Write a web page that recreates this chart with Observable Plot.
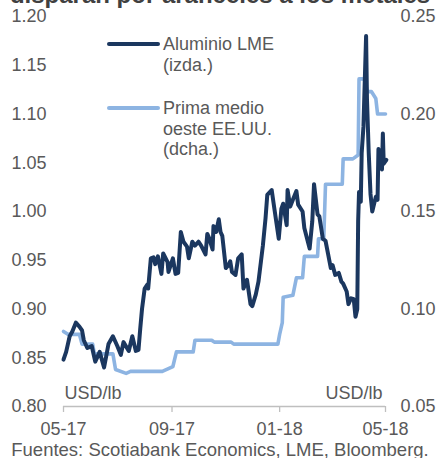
<!DOCTYPE html>
<html><head><meta charset="utf-8">
<script src="https://cdn.jsdelivr.net/npm/d3@7"></script>
<script src="https://cdn.jsdelivr.net/npm/@observablehq/plot@0.6"></script>
<style>
body{margin:0;width:440px;height:458px;overflow:hidden;position:relative;background:#fff;font-family:"Liberation Sans",Arial,sans-serif;}
#chart{position:absolute;left:0;top:0;}
#title{position:absolute;left:0;width:440px;top:-17px;text-align:center;font-weight:bold;font-size:24px;line-height:24px;color:#404040;white-space:nowrap;}
#caption{position:absolute;left:0;width:440px;top:439px;text-align:center;font-size:18.5px;line-height:21px;color:#595959;white-space:nowrap;}
.lg{position:absolute;font-size:18px;line-height:20.5px;color:#595959;white-space:nowrap;}
.sw{position:absolute;height:4px;border-radius:2px;}
</style></head>
<body>
<div id="chart"></div>
<div id="title">disparan por aranceles a los metales</div>
<div id="legend"></div>
<div id="caption">Fuentes: Scotiabank Economics, LME, Bloomberg.</div>
<script>
// Aluminio LME (USD/lb, left axis)
const alumDates = [
 "2017-05-01","2017-05-04","2017-05-08","2017-05-11","2017-05-15","2017-05-19","2017-05-22","2017-05-24","2017-05-28",
 "2017-06-02","2017-06-06","2017-06-11","2017-06-16","2017-06-21","2017-06-26",
 "2017-07-01","2017-07-05","2017-07-08","2017-07-14","2017-07-18","2017-07-22","2017-07-25","2017-07-27","2017-07-29",
 "2017-08-01","2017-08-04","2017-08-05","2017-08-08","2017-08-11","2017-08-13","2017-08-16","2017-08-20","2017-08-22","2017-08-27","2017-08-28",
 "2017-09-02","2017-09-05","2017-09-08","2017-09-11","2017-09-14","2017-09-18","2017-09-20","2017-09-24","2017-09-27",
 "2017-10-01","2017-10-04","2017-10-09","2017-10-11","2017-10-13","2017-10-17","2017-10-18","2017-10-21","2017-10-24","2017-10-26","2017-10-28",
 "2017-11-01","2017-11-04","2017-11-06","2017-11-08","2017-11-12","2017-11-15","2017-11-19","2017-11-21","2017-11-25","2017-11-29",
 "2017-12-01","2017-12-05","2017-12-08","2017-12-13","2017-12-16","2017-12-18","2017-12-23","2017-12-26","2017-12-31",
 "2018-01-03","2018-01-05","2018-01-09","2018-01-10","2018-01-13","2018-01-16","2018-01-20","2018-01-22","2018-01-27","2018-01-29",
 "2018-02-02","2018-02-04","2018-02-07","2018-02-09","2018-02-13","2018-02-15","2018-02-19","2018-02-22","2018-02-25","2018-02-28",
 "2018-03-02","2018-03-05","2018-03-09","2018-03-12","2018-03-14","2018-03-18","2018-03-20","2018-03-23","2018-03-26","2018-03-28","2018-03-30","2018-03-31",
 "2018-04-01","2018-04-03","2018-04-04","2018-04-06","2018-04-09","2018-04-10","2018-04-12","2018-04-14","2018-04-16","2018-04-20","2018-04-22","2018-04-23","2018-04-25","2018-04-27","2018-04-28","2018-04-29",
 "2018-05-02"
];
const alumValues = [
 0.848,0.856,0.872,0.877,0.886,0.882,0.878,0.868,0.860,
 0.862,0.846,0.856,0.840,0.864,0.872,
 0.862,0.853,0.866,0.857,0.872,0.857,0.858,0.880,0.900,
 0.921,0.925,0.921,0.952,0.953,0.946,0.954,0.936,0.957,0.948,0.938,
 0.952,0.936,0.937,0.979,0.969,0.964,0.952,0.969,0.965,
 0.969,0.965,0.956,0.977,0.973,0.961,0.985,0.979,0.992,0.979,0.975,
 0.942,0.945,0.949,0.938,0.935,0.952,0.956,0.921,0.930,0.905,
 0.903,0.915,0.928,0.965,0.993,1.017,1.022,1.003,0.972,
 1.003,1.008,0.986,1.022,1.005,1.012,1.021,1.007,1.000,0.983,
 0.969,0.962,0.990,1.028,0.997,0.995,0.972,0.970,0.956,0.942,
 0.945,0.935,0.937,0.928,0.926,0.918,0.905,0.911,0.910,0.892,0.900,0.990,
 1.020,1.010,1.060,1.087,1.180,1.115,1.060,1.018,1.000,1.015,1.012,1.064,1.060,1.043,1.080,1.049,
 1.053
];
// Prima medio oeste EE.UU. (USD/lb, right axis)
const premDates = [
 "2017-05-01","2017-05-06","2017-05-19","2017-05-22","2017-06-03","2017-06-05","2017-06-26","2017-06-29","2017-07-11","2017-07-16",
 "2017-08-21","2017-09-02","2017-09-06","2017-09-25","2017-09-27","2017-10-16","2017-10-19","2017-11-07","2017-11-10","2017-12-30",
 "2018-01-01","2018-01-04","2018-01-05","2018-01-16","2018-01-20","2018-01-27","2018-01-29","2018-02-13","2018-02-14","2018-02-20",
 "2018-02-22","2018-03-13","2018-03-14","2018-03-25","2018-03-31","2018-04-01","2018-04-08","2018-04-10","2018-04-15","2018-04-20",
 "2018-04-22","2018-05-01"
];
const premValues = [
 0.0885,0.087,0.087,0.082,0.082,0.077,0.077,0.069,0.067,0.068,
 0.068,0.0705,0.078,0.078,0.084,0.084,0.083,0.083,0.082,0.082,
 0.087,0.093,0.106,0.107,0.116,0.116,0.127,0.127,0.136,0.136,
 0.164,0.164,0.177,0.177,0.179,0.218,0.218,0.2115,0.2115,0.208,
 0.200,0.200
];
// Axes
const leftTicks = [0.80,0.85,0.90,0.95,1.00,1.05,1.10,1.15,1.20];
const rightTicks = [0.05,0.10,0.15,0.20,0.25];
const xTicks = ["2017-05-01","2017-09-01","2018-01-01","2018-05-01"];
const leftDomain = [0.80,1.20];
const rightDomain = [0.05,0.25];
const unitLabel = "USD/lb";
const seriesNames = [["Aluminio LME","(izda.)"],["Prima medio","oeste EE.UU.","(dcha.)"]];
const colors = ["#1b375f","#8db4e2"];

const toLeft = r => leftDomain[0] + (r - rightDomain[0]) * (leftDomain[1]-leftDomain[0])/(rightDomain[1]-rightDomain[0]);
const toRight = l => rightDomain[0] + (l - leftDomain[0]) * (rightDomain[1]-rightDomain[0])/(leftDomain[1]-leftDomain[0]);

const alum = alumDates.map((d,i)=>({date:new Date(d+"T00:00Z"), v:alumValues[i]}));
const prem = premDates.map((d,i)=>({date:new Date(d+"T00:00Z"), v:toLeft(premValues[i])}));
const xt = xTicks.map(d=>new Date(d+"T00:00Z"));

const chart = Plot.plot({
  width:440, height:440,
  marginLeft:63, marginRight:55, marginTop:16, marginBottom:34,
  style:{fontFamily:'"Liberation Sans",Arial,sans-serif', fontSize:"18px", color:"#595959", background:"#fff"},
  x:{type:"utc", domain:[xt[0], xt[xt.length-1]]},
  y:{domain:leftDomain},
  marks:[
    Plot.ruleY([leftDomain[0]], {stroke:"#bfbfbf", strokeWidth:1.3}),
    Plot.axisX({ticks:xt, tickFormat:d3.utcFormat("%m-%y"), tickSize:6, tickPadding:10, stroke:"#bfbfbf", fill:"#595959", label:null, strokeWidth:1.3}),
    Plot.axisY({anchor:"left", ticks:leftTicks, tickFormat:d=>d.toFixed(2), tickSize:0, tickPadding:17, label:null, fill:"#595959"}),
    Plot.axisY({anchor:"right", ticks:rightTicks.map(toLeft), tickFormat:d=>toRight(d).toFixed(2), tickSize:0, tickPadding:15, label:null, fill:"#595959"}),
    Plot.text([unitLabel], {frameAnchor:"bottom-left", text:d=>d, textAnchor:"start", lineAnchor:"middle", dx:1, dy:-13, fill:"#595959"}),
    Plot.text([unitLabel], {frameAnchor:"bottom-right", text:d=>d, textAnchor:"end", lineAnchor:"middle", dx:-3, dy:-13, fill:"#595959"}),
    Plot.line(prem, {x:"date", y:"v", stroke:colors[1], strokeWidth:3.6, strokeLinejoin:"round", strokeLinecap:"round"}),
    Plot.line(alum, {x:"date", y:"v", stroke:colors[0], strokeWidth:4, strokeLinejoin:"round", strokeLinecap:"round"})
  ]
});
document.getElementById("chart").appendChild(chart);

// Legend
const lg = document.getElementById("legend");
const entries = [{top:34, sw:44}, {top:98, sw:108}];
seriesNames.forEach((lines,i)=>{
  const s = document.createElement("div");
  s.className="sw"; s.style.left="107px"; s.style.width="53px"; s.style.top=(entries[i].sw-2)+"px"; s.style.background=colors[i];
  lg.appendChild(s);
  const t = document.createElement("div");
  t.className="lg"; t.style.left="163px"; t.style.top=entries[i].top+"px";
  t.innerHTML = lines.join("<br>");
  lg.appendChild(t);
});
</script>
</body></html>
